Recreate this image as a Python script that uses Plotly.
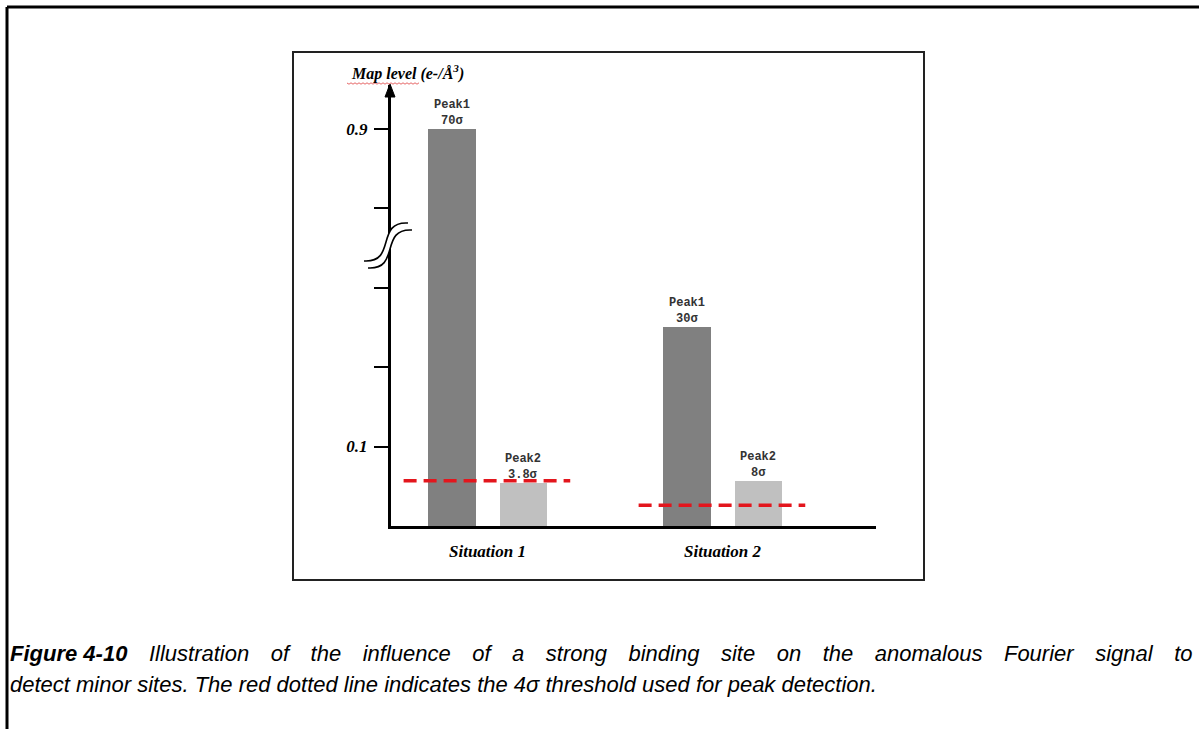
import plotly.graph_objects as go

# data (map level in e-/A^3)
situations = ["Situation 1", "Situation 2"]
peak_names = ["Peak1", "Peak2"]
peak1_level = [0.9, 0.251]
peak2_level = [0.054, 0.057]
peak1_sigma = ["70σ", "30σ"]
peak2_sigma = ["3.8σ", "8σ"]
threshold_4sigma = [0.057, 0.026]
label_levels = [0.1, 0.9]
label_text = ["0.1", "0.9"]
minor_levels = [0.2, 0.3, 0.8]
caption_bold = "Figure 4-10"
caption_line1 = "Illustration of the influence of a strong binding site on the anomalous Fourier signal to"
caption_line2 = "detect minor sites. The red dotted line indicates the 4σ threshold used for peak detection."

# broken axis: everything above the break is shifted down by 0.4
BREAK_LO, BREAK_SHIFT = 0.35, 0.4


def brk(v):
    return v if v < BREAK_LO else v - BREAK_SHIFT


W, H = 1199, 729
L, R, T, B = 391, 323, 85, 203
PW, PH = W - L - R, H - T - B


def px(x):
    return (x - L) / PW


def py(y):
    return (H - B - y) / PH


xpos = list(range(len(situations)))
label_font = dict(family="Liberation Mono", size=12, color="#333333", weight="bold")

fig = go.Figure()

fig.add_trace(go.Bar(
    x=xpos, y=[brk(v) for v in peak1_level],
    width=0.205, offset=-0.253,
    marker=dict(color="#808080", line=dict(width=0)),
    showlegend=False, hoverinfo="skip"))

fig.add_trace(go.Bar(
    x=xpos, y=[brk(v) for v in peak2_level],
    width=0.2, offset=0.053,
    marker=dict(color="#c0c0c0", line=dict(width=0)),
    showlegend=False, hoverinfo="skip"))

# peak labels above each bar (name line, then sigma line)
for i in xpos:
    for xc, lvl, name, sig in ((xpos[i] - 0.15, peak1_level[i], peak_names[0], peak1_sigma[i]),
                               (xpos[i] + 0.153, peak2_level[i], peak_names[1], peak2_sigma[i])):
        fig.add_annotation(x=xc, y=brk(lvl), xref="x", yref="y", text=sig, showarrow=False,
                           xanchor="center", yanchor="bottom", yshift=-1, font=label_font)
        fig.add_annotation(x=xc, y=brk(lvl), xref="x", yref="y", text=name, showarrow=False,
                           xanchor="center", yanchor="bottom", yshift=15, font=label_font)

# red dashed 4 sigma threshold lines
for i, t in enumerate(threshold_4sigma):
    fig.add_trace(go.Scatter(
        x=[xpos[i] - 0.357, xpos[i] + 0.352], y=[brk(t), brk(t)],
        mode="lines", line=dict(color="#e3161d", width=3.5, dash="13px,7px"),
        cliponaxis=False, showlegend=False, hoverinfo="skip"))

serif = dict(family="Liberation Serif", size=17, color="black", style="italic", weight="bold")

fig.update_layout(
    width=W, height=H,
    margin=dict(l=L, r=R, t=T, b=B),
    paper_bgcolor="white", plot_bgcolor="white",
    bargap=0,
    xaxis=dict(
        range=[-0.4106, 1.653], tickvals=xpos, ticktext=situations,
        showline=True, linewidth=3, linecolor="black", ticks="",
        showgrid=False, zeroline=False, tickfont=serif, ticklabelstandoff=8),
    yaxis=dict(
        range=[0, 0.555], tickvals=[brk(v) for v in label_levels], ticktext=label_text,
        showline=True, linewidth=3, linecolor="black",
        ticks="outside", ticklen=14, tickwidth=2, tickcolor="black",
        minor=dict(tickmode="array", tickvals=[brk(v) for v in minor_levels],
                   ticks="outside", ticklen=14, tickwidth=2, tickcolor="black", showgrid=False),
        showgrid=False, zeroline=False, tickfont=serif, ticklabelstandoff=3),
)

shapes = []
# outer page frame
shapes.append(dict(type="line", xref="paper", yref="paper", x0=px(7), y0=py(7), x1=px(1205), y1=py(7),
                   line=dict(color="black", width=3)))
shapes.append(dict(type="line", xref="paper", yref="paper", x0=px(7), y0=py(7), x1=px(7), y1=py(735),
                   line=dict(color="black", width=3)))
# box around the chart
shapes.append(dict(type="rect", xref="paper", yref="paper", x0=px(293), y0=py(52), x1=px(924), y1=py(580),
                   line=dict(color="#222222", width=2)))


def curve(p0, p1, p2, p3):
    return "M{},{} C{},{} {},{} {},{}".format(
        px(p0[0]), py(p0[1]), px(p1[0]), py(p1[1]), px(p2[0]), py(p2[1]), px(p3[0]), py(p3[1]))


up = [(364, 261), (397, 263), (375, 221), (408, 223)]
lo = [(x + 4, y + 7) for x, y in up]
fill_path = curve(*up) + " L{},{} C{},{} {},{} {},{} Z".format(
    px(lo[3][0]), py(lo[3][1]), px(lo[2][0]), py(lo[2][1]),
    px(lo[1][0]), py(lo[1][1]), px(lo[0][0]), py(lo[0][1]))
shapes.append(dict(type="path", xref="paper", yref="paper", path=fill_path,
                   fillcolor="white", line=dict(width=0), layer="above"))
for c in (up, lo):
    shapes.append(dict(type="path", xref="paper", yref="paper", path=curve(*c),
                       fillcolor="rgba(0,0,0,0)", line=dict(color="black", width=1.6), layer="above"))

# arrow head on top of the y axis
shapes.append(dict(type="path", xref="paper", yref="paper",
                   path="M{},{} L{},{} L{},{} Z".format(px(390), py(84), px(385), py(97), px(395), py(97)),
                   fillcolor="black", line=dict(color="black", width=1), layer="above"))

# spell-check squiggle under "Map level"
zz = "M{},{}".format(px(347), py(83))
for k in range(1, 37):
    zz += " L{},{}".format(px(347 + 2 * k), py(83 + (1.2 if k % 2 else -0.2)))
shapes.append(dict(type="path", xref="paper", yref="paper", path=zz,
                   fillcolor="rgba(0,0,0,0)", line=dict(color="#e04040", width=0.8)))
fig.update_layout(shapes=shapes)

fig.add_annotation(x=px(407), y=py(73), xref="paper", yref="paper", showarrow=False,
                   xanchor="center", yanchor="middle",
                   text="Map level (e-/Å<sup>3</sup>)",
                   font=dict(family="Liberation Serif", size=16, color="black", style="italic", weight="bold"))

# caption, first line justified to the full width
cap_font = dict(family="Liberation Sans", size=22, color="black", style="italic")
wide_gap = " \u2002\u2009"
line1 = f"<b>{caption_bold}</b>{wide_gap}" + wide_gap.join(caption_line1.split(" "))
fig.add_annotation(x=px(8), y=py(653), xref="paper", yref="paper", showarrow=False,
                   xanchor="left", yanchor="middle", text=line1, font=cap_font)
fig.add_annotation(x=px(8), y=py(684), xref="paper", yref="paper", showarrow=False,
                   xanchor="left", yanchor="middle", text=caption_line2, font=cap_font)

fig.write_html("out.html", post_script="document.body.style.margin='0';",
               config={"displayModeBar": False})
